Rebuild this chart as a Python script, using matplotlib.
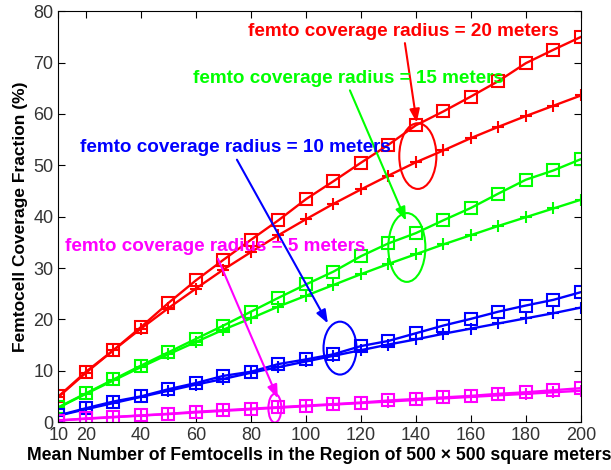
import numpy as np
import matplotlib
matplotlib.use("Agg")
import matplotlib.pyplot as plt
from matplotlib.patches import Ellipse

plt.rcParams['font.family'] = ['Liberation Sans', 'DejaVu Sans']

# numero medio de femtoceldas
n_femto = [10, 20, 30, 40, 50, 60, 70, 80, 90, 100,
           110, 120, 130, 140, 150, 160, 170, 180, 190, 200]

# radio 20 m
r20_sim = [5.0, 9.8, 14.0, 18.5, 23.2, 27.6, 31.6, 35.5, 39.3, 43.4,
           46.9, 50.5, 54.0, 57.8, 60.5, 63.4, 66.4, 69.9, 72.5, 75.0]
r20_ana = [4.9, 9.6, 14.0, 18.2, 22.2, 26.0, 29.7, 33.1, 36.4, 39.5,
           42.5, 45.3, 48.0, 50.6, 52.9, 55.3, 57.5, 59.6, 61.6, 63.6]
# radio 15 m
r15_sim = [2.9, 5.6, 8.3, 11.0, 13.6, 16.2, 18.8, 21.5, 24.2, 26.8,
           29.3, 32.3, 34.8, 36.8, 39.3, 41.7, 44.5, 47.2, 49.0, 51.2]
r15_ana = [2.8, 5.5, 8.1, 10.7, 13.2, 15.6, 18.0, 20.2, 22.5, 24.6,
           26.7, 28.8, 30.8, 32.7, 34.6, 36.4, 38.2, 39.9, 41.6, 43.3]
# radio 10 m
r10_sim = [1.3, 2.7, 4.0, 5.0, 6.4, 7.6, 9.0, 9.8, 11.3, 12.2,
           13.2, 14.8, 15.8, 17.3, 18.8, 20.1, 21.5, 22.7, 23.8, 25.3]
r10_ana = [1.25, 2.5, 3.7, 4.9, 6.1, 7.3, 8.4, 9.6, 10.7, 11.8,
           12.9, 14.0, 15.1, 16.1, 17.2, 18.2, 19.2, 20.2, 21.2, 22.3]
# radio 5 m
r5_sim = [0.3, 0.7, 1.0, 1.3, 1.6, 2.0, 2.3, 2.6, 2.9, 3.2,
          3.5, 3.8, 4.2, 4.5, 4.8, 5.1, 5.5, 5.8, 6.2, 6.6]
r5_ana = [0.31, 0.63, 0.94, 1.25, 1.56, 1.87, 2.18, 2.48, 2.79, 3.09,
          3.4, 3.7, 4.0, 4.3, 4.6, 4.9, 5.2, 5.5, 5.8, 6.1]

series = [(r20_sim, r20_ana, '#ff0000'),
          (r15_sim, r15_ana, '#00ff00'),
          (r10_sim, r10_ana, '#0000ff'),
          (r5_sim, r5_ana, '#ff00ff')]

fig = plt.figure(figsize=(6.11, 4.70), dpi=100)
ax = fig.add_axes([0.0957, 0.102, 0.855, 0.874])

for sim, ana, c in series:
    ax.plot(n_femto, sim, color=c, marker='s', mfc='none', mec=c, ms=8, mew=1.5, lw=1.7)
    ax.plot(n_femto, ana, color=c, marker='+', ms=9, mew=1.5, lw=1.7)

# textos, flechas y elipses
notas = [("femto coverage radius = 20 meters", '#ff0000', (135.6, 76.1), (136, 73.8), (140.3, 58.3), (140.7, 51.8, 13.5, 12.8)),
         ("femto coverage radius = 15 meters", '#00ff00', (115.3, 67.0), (116, 64.6), (136.4, 39.2), (136.7, 34.0, 13.5, 13.4)),
         ("femto coverage radius = 10 meters", '#0000ff', (74.2, 53.4), (74.9, 51.1), (108, 19.2), (112.4, 14.4, 12.0, 10.3)),
         ("femto coverage radius = 5 meters", '#ff00ff', (67.0, 34.2), (68, 31.8), (89.8, 4.6), (88.7, 2.7, 4.7, 5.6))]
for txt, c, pos, a0, a1, el in notas:
    ax.text(pos[0], pos[1], txt, color=c, fontsize=13.6, fontweight='bold', ha='center', va='center', zorder=5)
    ax.annotate('', xy=a1, xytext=a0,
                arrowprops=dict(arrowstyle='-|>,head_length=0.8,head_width=0.3', color=c, lw=1.5, shrinkA=0, shrinkB=0),
                zorder=5)
    ax.add_patch(Ellipse((el[0], el[1]), el[2], el[3], fill=False, ec=c, lw=1.5, zorder=5))

ax.set_xlim(10, 200)
ax.set_ylim(0, 80)
ax.set_xticks([10, 20, 40, 60, 80, 100, 120, 140, 160, 180, 200])
ax.set_yticks(np.arange(0, 81, 10))
ax.tick_params(direction='in', top=True, right=True, labelsize=13, labelcolor='#333333', length=5)
ax.set_xlabel("Mean Number of Femtocells in the Region of 500 \u00d7 500 square meters", fontsize=12.7, fontweight='bold', labelpad=2)
ax.set_ylabel("Femtocell Coverage Fraction (%)", fontsize=12.5, fontweight='bold')

plt.savefig("out.png", dpi=100)
